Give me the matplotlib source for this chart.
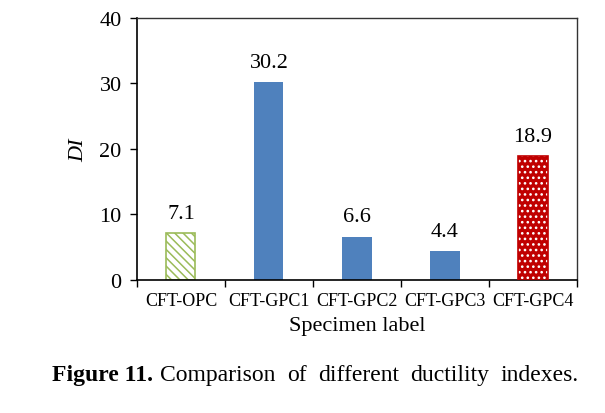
import matplotlib.pyplot as plt

plt.rcParams['font.family'] = ['Liberation Serif', 'DejaVu Serif']
plt.rcParams['hatch.linewidth'] = 1.1

labels = ['CFT-OPC', 'CFT-GPC1', 'CFT-GPC2', 'CFT-GPC3', 'CFT-GPC4']
di = [7.1, 30.2, 6.6, 4.4, 18.9]
green = '#9BBB59'
blue = '#4F81BD'
red = '#C00000'
caption_words = ['Comparison', 'of', 'different', 'ductility', 'indexes.']

fig = plt.figure(figsize=(6.05, 4.14), dpi=100)
ax = fig.add_axes([0.2264, 0.3213, 0.7273, 0.6328])

x = list(range(len(labels)))
w = 0.33

# plain blue bars
ax.bar(x[1:4], di[1:4], width=w, color=blue, zorder=2)
# green hatched OPC bar
ax.bar(x[0], di[0], width=w, facecolor='white', edgecolor=green,
       hatch='\\\\\\\\', linewidth=1.2, zorder=2)
# red dotted GPC4 bar
ax.bar(x[4], di[4], width=w, facecolor=red, edgecolor='none', zorder=2)
ax.bar(x[4], di[4], width=w, facecolor='none', edgecolor='white',
       hatch='...', linewidth=0, zorder=3)
ax.bar(x[4], di[4], width=w, facecolor='none', edgecolor=red,
       linewidth=1.2, zorder=4)

for xi, v in zip(x, di):
    ax.text(xi, v + 1.6, f'{v}', ha='center', va='bottom', fontsize=16)

ax.set_ylim(0, 40)
ax.set_xlim(-0.5, 4.5)
ax.set_yticks([0, 10, 20, 30, 40])
ax.set_xticks(x)
ax.set_xticklabels(labels, fontsize=13)
ax.set_xticks([-0.5, 0.5, 1.5, 2.5, 3.5, 4.5], minor=True)
ax.tick_params(axis='x', which='major', length=0, pad=9)
ax.tick_params(axis='x', which='minor', length=5, width=1, direction='out')
ax.tick_params(axis='y', labelsize=16, length=5, width=1, direction='out', pad=6)
ax.set_ylabel('DI', fontsize=16, style='italic', labelpad=8)
ax.set_xlabel('Specimen label', fontsize=16, labelpad=5)

for s in ['left', 'bottom']:
    ax.spines[s].set_linewidth(1.2)
for s in ['top', 'right']:
    ax.spines[s].set_linewidth(1.0)
    ax.spines[s].set_color('#333333')

# caption, justified between the left text edge and the axes right edge
base_y = 0.080
t1 = fig.text(52 / 605, base_y, 'Figure 11.', fontsize=17, fontweight='bold',
              ha='left', va='baseline')
fig.canvas.draw()
r = fig.canvas.get_renderer()
start = t1.get_window_extent(r).x1 + 7
end = 579
texts = [fig.text(0, base_y, wd, fontsize=17, ha='left', va='baseline')
         for wd in caption_words]
widths = [t.get_window_extent(r).width for t in texts]
gap = (end - start - sum(widths)) / (len(texts) - 1)
pos = start
for t, wd in zip(texts, widths):
    t.set_x(pos / fig.bbox.width)
    pos += wd + gap

fig.savefig('out.png', dpi=100)
